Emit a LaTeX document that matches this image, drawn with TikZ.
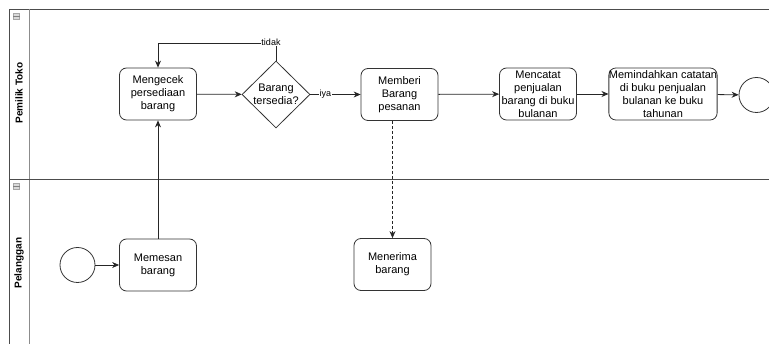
\documentclass[tikz,border=0pt]{standalone}
\usepackage{fontspec}
\setmainfont{Liberation Sans}
\usetikzlibrary{arrows.meta,shapes.geometric}
\begin{document}
\begin{tikzpicture}[x=1pt,y=-1pt,
  task/.style={draw=black!80, line width=0.8pt, rounded corners=7pt, minimum width=77pt, minimum height=52pt, align=center, inner sep=0pt, font=\fontsize{11}{13}\selectfont},
  dec/.style={draw=black!80, line width=0.8pt, diamond, aspect=1, minimum width=68pt, minimum height=67pt, inner sep=0pt},
  ev/.style={draw=black!80, line width=0.8pt, circle, minimum size=35pt, inner sep=0pt},
  arr/.style={draw=black!85, line width=0.8pt, -{Stealth[length=7pt,width=6pt]}},
  lbl/.style={fill=white, inner sep=0.5pt, font=\fontsize{9}{10}\selectfont},
  lane/.style={font=\bfseries\fontsize{10}{12}\selectfont, rotate=90},
  mini/.style={draw=black!35, fill=black!15, line width=0.5pt, minimum size=6pt, inner sep=0pt}
]
\useasboundingbox (0,0) rectangle (769,344);
% pools and lanes
\draw[black!70, line width=0.8pt] (9,344) -- (9,9) -- (769,9);
\draw[black!45, line width=0.8pt] (29,9) -- (29,344);
\draw[black!70, line width=0.8pt] (9,179) -- (769,179);
\node[lane] (l1) at (19,93) {Pemilik Toko};
\node[lane] (l2) at (19,263) {Pelanggan};
\node[mini] (m1) at (16.5,16.5) {};
\node[mini] (m2) at (16.5,186.5) {};
\draw[black!50, line width=0.8pt] (m1.west) -- (m1.east);
\draw[black!50, line width=0.8pt] (m2.west) -- (m2.east);
% nodes
\node[ev] (start) at (77.5,265) {};
\node[task] (memesan) at (158,265) {Memesan\\barang};
\node[task] (mengecek) at (158,94) {Mengecek\\persediaan\\barang};
\node[dec] (d) at (276,94.5) {};
\node[font=\fontsize{11}{13}\selectfont, align=center, inner sep=0pt] (dt) at (276,94.5) {Barang\\tersedia?};
\node[task] (memberi) at (399.5,94.5) {Memberi\\Barang\\pesanan};
\node[task] (mencatat) at (538,94) {Mencatat\\penjualan\\barang di buku\\bulanan};
\node[task, minimum width=106pt] (pindah) at (663,94) {Memindahkan catatan\\di buku penjualan\\bulanan ke buku\\tahunan};
\node[ev] (end) at (756.5,95) {};
\node[task] (menerima) at (392.5,264.5) {Menerima\\barang};
\coordinate (tk) at (276,43);
% connectors
\draw[arr] (start) -- (memesan);
\draw[arr] (memesan) -- (mengecek);
\draw[arr] (mengecek) -- (d);
\draw[arr] (d) -- node[lbl, pos=0.3] (iya) {iya} (memberi);
\draw[arr] (d.north) -- (tk) -| (mengecek.north);
\node[lbl] (tidak) at (271,42) {tidak};
\draw[arr, dash pattern=on 3pt off 2pt] (memberi.south -| menerima.north) -- (menerima.north);
\draw[arr] (memberi) -- (mencatat);
\draw[arr] (mencatat) -- (pindah);
\draw[arr] (pindah) -- (end);
\end{tikzpicture}
\end{document}
